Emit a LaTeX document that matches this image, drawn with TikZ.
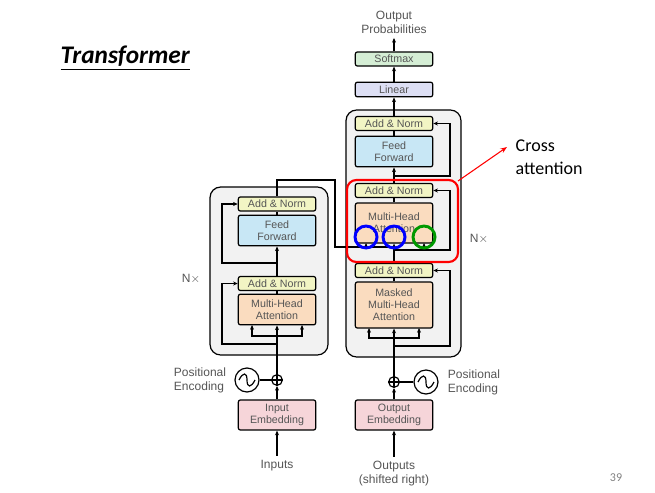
\documentclass[tikz,border=0pt]{standalone}
\usepackage{fontspec}
\setmainfont{Liberation Sans}
\newfontfamily\calfnt{Carlito}
\usetikzlibrary{arrows.meta}
\definecolor{an}{HTML}{F2F5C4}
\definecolor{ff}{HTML}{C8E7F5}
\definecolor{att}{HTML}{FADCBF}
\definecolor{emb}{HTML}{F6D5D9}
\definecolor{lin}{HTML}{DDDFF4}
\definecolor{sm}{HTML}{D5EED5}
\definecolor{bg}{HTML}{F2F2F2}
\definecolor{txt}{HTML}{555555}
\begin{document}
\begin{tikzpicture}[x=0.75pt,y=-0.75pt,
  blk/.style={draw=black,line width=0.9pt,rounded corners=1.5pt,text=txt,font=\fontsize{8}{9}\selectfont,align=center,inner sep=0pt,minimum width=58pt},
  ln/.style={line width=0.9pt},
  ar/.style={ln,-{Stealth[length=3.5pt,width=3pt]}},
  lab/.style={text=txt,font=\fontsize{9}{10.5}\selectfont,align=center}]
\useasboundingbox (0,0) rectangle (655,492);
% outer boxes
\draw[fill=bg,line width=0.9pt,rounded corners=8pt] (210,187) rectangle (328,355);
\draw[fill=bg,line width=0.9pt,rounded corners=8pt] (346,110) rectangle (461,357);
% encoder blocks
\node[blk,fill=an,minimum height=10.5pt] (ean2) at (277,204) {Add \& Norm};
\node[blk,fill=ff,minimum height=23pt] (eff) at (277,230.5) {Feed\\Forward};
\node[blk,fill=an,minimum height=10.5pt] (ean1) at (277,283.5) {Add \& Norm};
\node[blk,fill=att,minimum height=23pt] (emha) at (277,309.5) {Multi-Head\\Attention};
\node[blk,fill=emb,minimum height=22.5pt] (iemb) at (277,415) {Input\\Embedding};
% decoder blocks
\node[blk,fill=sm,minimum height=10.5pt] (soft) at (394,59) {Softmax};
\node[blk,fill=lin,minimum height=11pt] (lin) at (394,89.5) {Linear};
\node[blk,fill=an,minimum height=10.5pt] (dan3) at (394,123.5) {Add \& Norm};
\node[blk,fill=ff,minimum height=23pt] (dff) at (394,151.5) {Feed\\Forward};
\node[blk,fill=an,minimum height=10.5pt] (dan2) at (394,190.5) {Add \& Norm};
\node[blk,fill=att,minimum height=30pt] (dmha) at (394,223) {Multi-Head\\Attention};
\node[blk,fill=an,minimum height=10.5pt] (dan1) at (394,270.5) {Add \& Norm};
\node[blk,fill=att,minimum height=34.5pt] (dmmha) at (394,305) {Masked\\Multi-Head\\Attention};
\node[blk,fill=emb,minimum height=22.5pt] (oemb) at (394,415) {Output\\Embedding};
% texts
\node[lab] (outp) at (394,22) {Output\\Probabilities};
\node[lab] (inp) at (277,466) {Inputs};
\node[lab] (outs) at (394,474) {Outputs\\(shifted right)};
\node[lab,align=left] (pe1) at (200,380) {Positional\\Encoding};
\node[lab,align=left] (pe2) at (474,382) {Positional\\Encoding};
\node[lab] (nx1) at (191,279) {N$\times$};
\node[lab] (nx2) at (479,239) {N$\times$};
% positional encodings
\node[draw,circle,ln,minimum size=8pt,inner sep=0pt] (p1) at (277,380) {};
\draw[ln] (p1.north)--(p1.south) (p1.west)--(p1.east);
\node[draw,circle,ln,minimum size=18pt,inner sep=0pt] (s1) at (247,380) {};
\draw[ln] (239,380) .. controls (243,372) and (247,372) .. (247,380) .. controls (247,388) and (251,388) .. (255,380);
\draw[ln] (s1)--(p1);
\node[draw,circle,ln,minimum size=8pt,inner sep=0pt] (p2) at (394,382) {};
\draw[ln] (p2.north)--(p2.south) (p2.west)--(p2.east);
\node[draw,circle,ln,minimum size=18pt,inner sep=0pt] (s2) at (426,382) {};
\draw[ln] (418,382) .. controls (422,374) and (426,374) .. (426,382) .. controls (426,390) and (430,390) .. (434,382);
\draw[ln] (s2)--(p2);
% encoder flow
\draw[ar] (inp.north)--(iemb.south);
\draw[ar] (iemb.north)--(p1.south);
\draw[ar] (p1.north)--(emha.south);
\draw[ar] (277,336)-|(252,325);
\draw[ar] (277,336)-|(302,325);
\draw[ar] (277,344)-|(222,283.5)--(ean1.west);
\draw[ln] (emha.north)--(ean1.south);
\draw[ar] (ean1.north)--(eff.south);
\draw[ar] (277,263)-|(222,204)--(ean2.west);
\draw[ln] (eff.north)--(ean2.south);
\draw[ln] (ean2.north)--(277,180)--(335,180)--(335,247)--(394,247);
\draw[ar] (366,247)--(366,243);
% decoder flow
\draw[ar] (oemb.south|-outs.north)--(oemb.south);
\draw[ar] (oemb.north)--(p2.south);
\draw[ar] (p2.north)--(dmmha.south);
\draw[ar] (394,338)-|(369,328);
\draw[ar] (394,338)-|(419,328);
\draw[ar] (394,346)-|(450,270.5)--(dan1.east);
\draw[ln] (dmmha.north)--(dan1.south);
\draw[ar] (dan1.north)--(dmha.south);
\draw[ar] (394,250)-|(424,243);
\draw[ar] (394,250)-|(450,190.5)--(dan2.east);
\draw[ln] (dmha.north)--(dan2.south);
\draw[ar] (dan2.north)--(dff.south);
\draw[ar] (394,176)-|(450,123.5)--(dan3.east);
\draw[ln] (dff.north)--(dan3.south);
\draw[ar] (dan3.north)--(lin.south);
\draw[ar] (lin.north)--(soft.south);
\draw[ar] (soft.north)--(outp.south);
% annotations
\draw[red,line width=1.6pt,rounded corners=7pt] (347,180) rectangle (458,262);
\draw[blue,line width=2.2pt] (366,237) circle (11);
\draw[blue,line width=2.2pt] (394,237) circle (11);
\draw[green!60!black,line width=2.2pt] (424,237) circle (11);
\coordinate (rc) at (458,181);
\node[font=\calfnt\fontsize{13.5}{17}\selectfont,align=left,anchor=north west] (ca) at (511,135) {Cross\\attention};
\draw[red,line width=0.8pt,-{Stealth[length=5pt]}] (rc)--(507,147);
\node[font=\calfnt\bfseries\itshape\fontsize{19}{22}\selectfont,anchor=west] (title) at (56,58) {\underline{Transformer}};
\node[font=\calfnt\fontsize{9}{10}\selectfont,text=gray] (pg) at (616,478) {39};
\end{tikzpicture}
\end{document}
